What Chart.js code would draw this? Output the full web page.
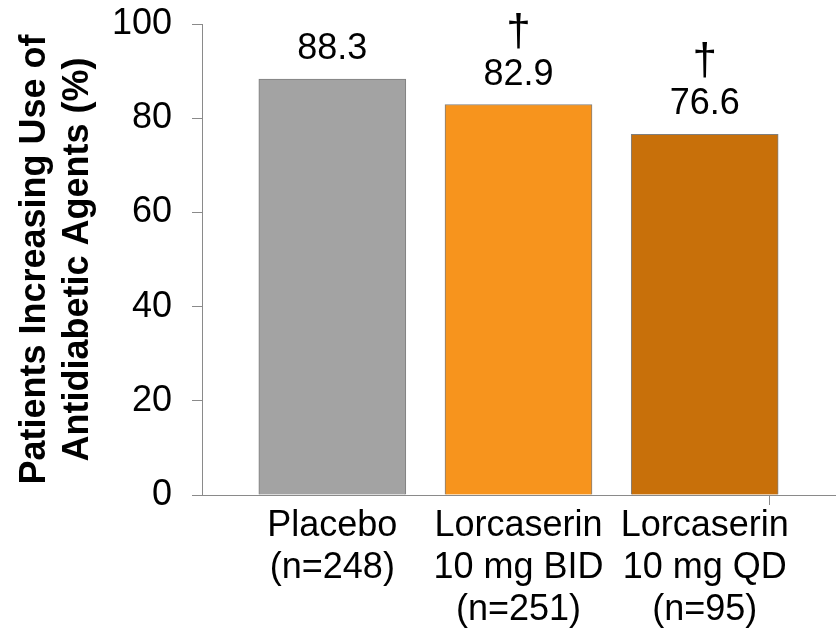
<!DOCTYPE html>
<html>
<head>
<meta charset="utf-8">
<script src="https://cdn.jsdelivr.net/npm/chart.js@4.4.1/dist/chart.umd.min.js"></script>
<style>
    body { margin: 0; background: #fff; }
    #wrap { width: 837px; height: 641px; }
</style>
</head>
<body>
<div id="wrap"><canvas id="patientsChart"></canvas></div>
<script>
const categories = [
    ['Placebo', '(n=248)'],
    ['Lorcaserin', '10 mg BID', '(n=251)'],
    ['Lorcaserin', '10 mg QD', '(n=95)']
];
const percentages = [88.3, 82.9, 76.6];
const significance = ['', '\u2020', '\u2020'];
const yTicks = [0, 20, 40, 60, 80, 100];
const barColors = ['#a3a3a3', '#f7941d', '#c8700a'];

const fontFamily = '"Liberation Sans", Arial, sans-serif';
const axisColor = '#8a8a8a';

// value + dagger drawn above each bar
const barLabels = {
    id: 'barLabels',
    afterDatasetsDraw(chart) {
        const ctx = chart.ctx;
        const bars = chart.getDatasetMeta(0).data;
        ctx.save();
        ctx.fillStyle = '#000';
        ctx.textAlign = 'center';
        ctx.textBaseline = 'alphabetic';
        bars.forEach((bar, i) => {
            const base = bar.y - 20;
            ctx.font = '36px ' + fontFamily;
            ctx.fillText(percentages[i].toFixed(1), bar.x, base);
            if (significance[i]) {
                ctx.font = '44px ' + fontFamily;
                ctx.fillText(significance[i], bar.x, base - 40);
            }
        });
        ctx.restore();
    }
};

function isCategoryTick(c) {
    return c && c.tick && Number.isInteger(c.tick.value);
}

new Chart(document.getElementById('patientsChart'), {
    type: 'bar',
    data: {
        datasets: [{
            data: percentages.map((v, i) => ({ x: i, y: v })),
            backgroundColor: barColors,
            borderColor: '#7f7f7f',
            borderWidth: 1,
            barThickness: 147
        }]
    },
    options: {
        responsive: true,
        maintainAspectRatio: false,
        devicePixelRatio: 1,
        animation: false,
        layout: { padding: { top: 24, right: 2, left: 0, bottom: 0 } },
        plugins: {
            legend: { display: false },
            tooltip: { enabled: false }
        },
        scales: {
            x: {
                type: 'linear',
                offset: false,
                min: -0.7,
                max: 2.7,
                afterBuildTicks: s => { s.ticks = [-0.7, 0, 1, 2, 2.7].map(v => ({ value: v })); },
                afterFit: s => {
                    s.height = 146;
                    s.paddingLeft = 0;
                    s.paddingRight = 0;
                },
                border: { display: true, color: axisColor, width: 1 },
                grid: {
                    drawOnChartArea: false,
                    drawTicks: true,
                    tickLength: 10,
                    color: c => isCategoryTick(c) ? 'rgba(0,0,0,0)' : axisColor
                },
                ticks: {
                    autoSkip: false,
                    maxRotation: 0,
                    minRotation: 0,
                    padding: 0,
                    color: '#000',
                    font: { family: fontFamily, size: 36, lineHeight: 1.17 },
                    callback: v => Number.isInteger(v) ? categories[v] : ''
                }
            },
            y: {
                min: 0,
                max: 100,
                afterBuildTicks: s => { s.ticks = yTicks.map(v => ({ value: v })); },
                afterFit: s => {
                    s.width = 202;
                    s.paddingTop = 0;
                    s.paddingBottom = 0;
                },
                border: { display: true, color: axisColor, width: 1 },
                grid: {
                    drawOnChartArea: false,
                    drawTicks: true,
                    tickLength: 10,
                    color: axisColor
                },
                ticks: {
                    padding: 20,
                    color: '#000',
                    font: { family: fontFamily, size: 36 }
                },
                title: {
                    display: true,
                    text: ['Patients Increasing Use of', 'Antidiabetic Agents (%)'],
                    color: '#000',
                    padding: { top: 13, bottom: 0 },
                    font: { family: fontFamily, size: 36, weight: 'bold', lineHeight: 1.2 }
                }
            }
        }
    },
    plugins: [barLabels]
});
</script>
</body>
</html>
